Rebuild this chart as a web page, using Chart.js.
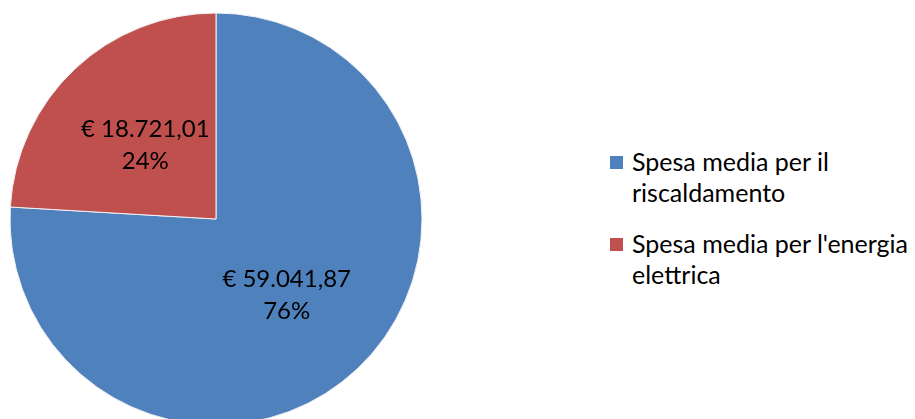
<!DOCTYPE html>
<html>
<head>
<meta charset="utf-8">
<script src="https://cdn.jsdelivr.net/npm/chart.js@4.4.1/dist/chart.umd.min.js"></script>
<style>
  html, body { margin: 0; padding: 0; background: #fff; overflow: hidden; width: 915px; height: 419px; }
  .pie-wrap { position: absolute; left: 0; top: 0; width: 432px; height: 438px; }
  .legend { position: absolute; left: 610px; top: 146px; font-family: Lato, "Liberation Sans", sans-serif; font-size: 25px; color: #000; }
  .legend-item { position: relative; padding-left: 22px; line-height: 31px; margin-bottom: 20px; }
  .legend-dot { position: absolute; left: 0; top: 10px; width: 13px; height: 13px; }
</style>
</head>
<body>
<div class="pie-wrap"><canvas id="pie"></canvas></div>
<div class="legend" id="legend"></div>
<script>
const LABELS = ['Spesa media per il riscaldamento', "Spesa media per l'energia elettrica"];
const LEGEND_LINES = [['Spesa media per il', 'riscaldamento'], ["Spesa media per l'energia", 'elettrica']];
const VALUES = [59041.87, 18721.01];
const COLORS = ['#4F81BD', '#C0504D'];

const FONT = 'Lato, "Liberation Sans", sans-serif';

function euro(v) {
  const parts = v.toFixed(2).split('.');
  const int = parts[0].replace(/\B(?=(\d{3})+(?!\d))/g, '.');
  return '€ ' + int + ',' + parts[1];
}

// draws value + percent in the middle of each slice
const sliceLabels = {
  id: 'sliceLabels',
  afterDatasetsDraw(chart) {
    const ctx = chart.ctx;
    const meta = chart.getDatasetMeta(0);
    const total = VALUES.reduce((a, b) => a + b, 0);
    ctx.save();
    ctx.font = '24px ' + FONT;
    ctx.fillStyle = '#000';
    ctx.textAlign = 'center';
    ctx.textBaseline = 'middle';
    meta.data.forEach((arc, i) => {
      const mid = (arc.startAngle + arc.endAngle) / 2;
      const r = arc.outerRadius * 0.5;
      const x = arc.x + Math.cos(mid) * r;
      const y = arc.y + Math.sin(mid) * r;
      ctx.fillText(euro(VALUES[i]), x, y - 15);
      ctx.fillText(Math.round(VALUES[i] / total * 100) + '%', x, y + 17);
    });
    ctx.restore();
  }
};

new Chart(document.getElementById('pie'), {
  type: 'pie',
  data: {
    labels: LABELS,
    datasets: [{
      data: VALUES,
      backgroundColor: COLORS,
      borderColor: '#f2f2f2',
      borderWidth: 1,
      hoverOffset: 0
    }]
  },
  options: {
    responsive: true, maintainAspectRatio: false,
    animation: false,
    radius: 206,
    layout: { padding: { left: 10, right: 10, top: 13, bottom: 13 } },
    plugins: { legend: { display: false }, tooltip: { enabled: false } }
  },
  plugins: [sliceLabels]
});

document.getElementById('legend').innerHTML = LEGEND_LINES.map((lines, i) =>
  `<div class="legend-item"><span class="legend-dot" style="background:${COLORS[i]}"></span>${lines.join('<br>')}</div>`
).join('');
</script>
</body>
</html>
